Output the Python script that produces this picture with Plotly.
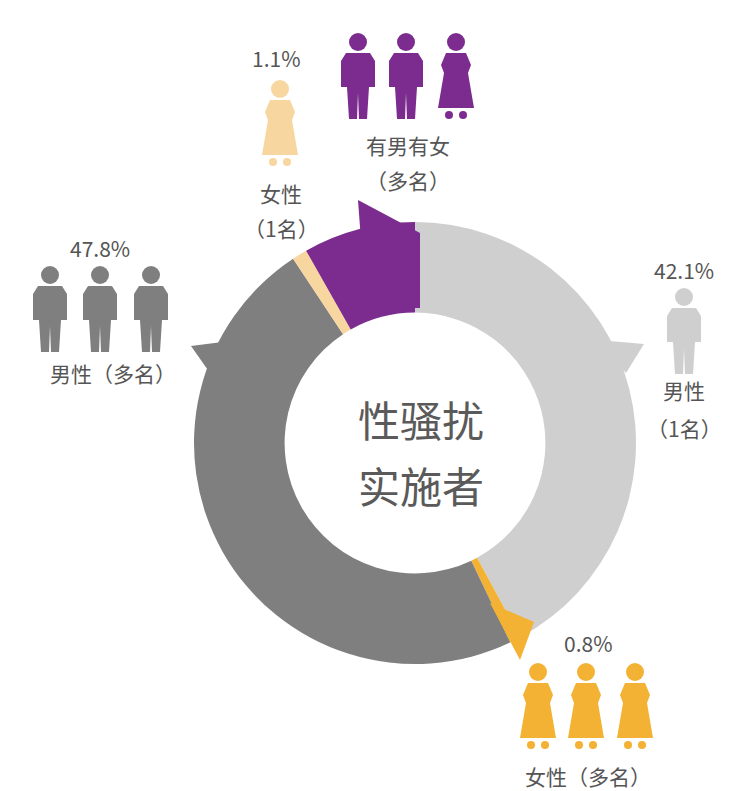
import plotly.graph_objects as go

labels = ["男性（1名）", "女性（多名）", "男性（多名）", "女性（1名）", "有男有女（多名）"]
values = [42.1, 0.8, 47.8, 1.1, 8.2]
colors = ["#cfcfcf", "#f3b233", "#7f7f7f", "#f8d6a0", "#7b2c8e"]

W, H = 750, 791
def px(x): return x / W
def py(y): return 1 - y / H

fig = go.Figure(go.Pie(
    labels=labels, values=values, hole=0.59, sort=False, direction="clockwise",
    rotation=0, marker=dict(colors=colors, line=dict(color="white", width=0)),
    textinfo="none", hoverinfo="label+percent", showlegend=False,
    domain=dict(x=[px(186), px(628)], y=[py(656), py(214)])))

shapes = []
def path(pts, color):
    d = "M " + " L ".join(f"{px(x)},{py(y)}" for x, y in pts) + " Z"
    shapes.append(dict(type="path", xref="paper", yref="paper", path=d,
                       fillcolor=color, line=dict(width=0), layer="above"))
def circ(cx, cy, r, color):
    shapes.append(dict(type="circle", xref="paper", yref="paper",
                       x0=px(cx - r), x1=px(cx + r), y0=py(cy + r), y1=py(cy - r),
                       fillcolor=color, line=dict(width=0)))

def person(cx, top, color, female=False, s=1.0):
    circ(cx, top + 9 * s, 9 * s, color)
    y0 = top + 20 * s
    if female:
        path([(cx - 10*s, y0), (cx + 10*s, y0), (cx + 15*s, y0 + 12*s), (cx + 12*s, y0 + 20*s),
              (cx + 18*s, y0 + 55*s), (cx - 18*s, y0 + 55*s), (cx - 12*s, y0 + 20*s),
              (cx - 15*s, y0 + 12*s)], color)
        circ(cx - 7*s, y0 + 62*s, 4*s, color)
        circ(cx + 7*s, y0 + 62*s, 4*s, color)
    else:
        path([(cx - 12*s, y0), (cx + 12*s, y0), (cx + 17*s, y0 + 8*s), (cx + 17*s, y0 + 34*s),
              (cx + 11*s, y0 + 34*s), (cx + 9*s, y0 + 66*s), (cx + 1*s, y0 + 66*s),
              (cx, y0 + 40*s), (cx - 1*s, y0 + 66*s), (cx - 9*s, y0 + 66*s),
              (cx - 11*s, y0 + 34*s), (cx - 17*s, y0 + 34*s), (cx - 17*s, y0 + 8*s)], color)

# pointers
path([(350, 192), (412, 225), (412, 300), (358, 300)], colors[4])
path([(230, 332), (183, 338), (202, 365)], colors[2])
path([(590, 332), (636, 336), (618, 365)], colors[0])
path([(482, 595), (512, 652), (526, 614)], colors[1])

for x in (350, 398, 448):
    person(x, 25, colors[4], female=(x == 448))
person(272, 72, colors[3], female=True)
for x in (42, 92, 143):
    person(x, 258, colors[2])
person(676, 280, colors[0])
for x in (530, 578, 627):
    person(x, 655, colors[1], female=True)

ann = []
def t(x, y, s, size=21, color="#555555"):
    ann.append(dict(x=px(x), y=py(y), xref="paper", yref="paper", text=s, showarrow=False,
                    xanchor="center", yanchor="middle",
                    font=dict(size=size, color=color, family="Noto Sans CJK SC")))
t(268, 50, "1.1%"); t(273, 185, "女性"); t(273, 220, "（1名）")
t(400, 137, "有男有女"); t(400, 172, "（多名）")
t(92, 240, "47.8%"); t(105, 365, "男性（多名）")
t(676, 262, "42.1%"); t(676, 382, "男性"); t(676, 420, "（1名）")
t(580, 635, "0.8%"); t(580, 768, "女性（多名）")
t(413, 410, "性骚扰", size=42, color="#5a5a5a"); t(413, 476, "实施者", size=42, color="#5a5a5a")

fig.update_layout(width=W, height=H, margin=dict(l=0, r=0, t=0, b=0),
                  paper_bgcolor="white", plot_bgcolor="white",
                  shapes=shapes, annotations=ann,
                  font=dict(family="Noto Sans CJK SC"))
fig.write_html("out.html")
